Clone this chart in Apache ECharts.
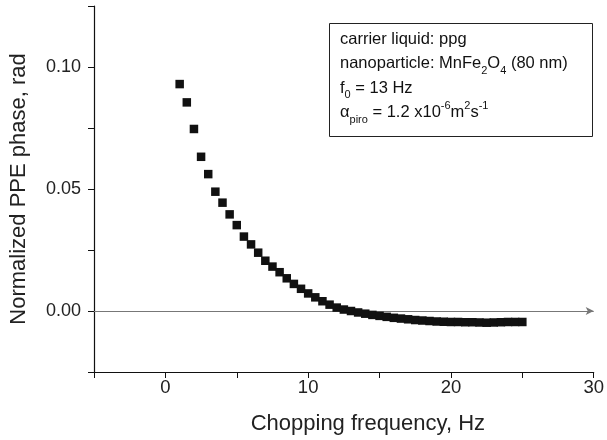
<!DOCTYPE html>
<html><head><meta charset="utf-8">
<script src="https://cdn.jsdelivr.net/npm/echarts@6/dist/echarts.min.js"></script>
<style>html,body{margin:0;padding:0;background:#fff}#c{width:607px;height:440px}</style>
</head><body><div id="c"></div>
<script>
const freq = [1,1.5,2,2.5,3,3.5,4,4.5,5,5.5,6,6.5,7,7.5,8,8.5,9,9.5,10,10.5,11,11.5,12,12.5,13,13.5,14,14.5,15,15.5,16,16.5,17,17.5,18,18.5,19,19.5,20,20.5,21,21.5,22,22.5,23,23.5,24,24.5,25];
const phase = [0.0930,0.0855,0.0746,0.0632,0.0561,0.0489,0.0444,0.0396,0.0352,0.0305,0.0273,0.0239,0.0206,0.0182,0.0159,0.0134,0.0111,0.0091,0.0072,0.0056,0.0040,0.0026,0.0014,0.0006,0.0000,-0.0006,-0.0011,-0.0016,-0.0020,-0.0024,-0.0028,-0.0031,-0.0034,-0.0037,-0.0039,-0.0041,-0.0043,-0.0044,-0.0045,-0.0045,-0.0046,-0.0046,-0.0047,-0.0048,-0.0047,-0.0046,-0.0045,-0.0045,-0.0045];
const xTickLabels = [0,10,20,30];
const yTickLabels = ['0.00','0.05','0.10'];
const xLabel = 'Chopping frequency, Hz';
const yLabel = 'Normalized PPE phase, rad';

const FONT = 'Liberation Sans, Arial, sans-serif';
const chart = echarts.init(document.getElementById('c'), null, {renderer:'canvas'});
const pts = freq.map((f,i)=>[f, phase[i]]);
chart.setOption({
  animation:false,
  grid:{left:94,right:13,top:6,bottom:68},
  xAxis:{
    type:'value', min:-5, max:30, interval:5,
    name:xLabel, nameLocation:'middle', nameGap:41,
    nameTextStyle:{fontFamily:FONT,fontSize:22,color:'#222',padding:[0,0,0,48]},
    axisLine:{onZero:false,lineStyle:{color:'#111',width:1.2}},
    axisTick:{inside:false,length:6,lineStyle:{color:'#111'}},
    axisLabel:{fontFamily:FONT,fontSize:18.5,color:'#222',margin:6,
      formatter:v=> xTickLabels.indexOf(Math.round(v))>=0 && Math.abs(v-Math.round(v))<1e-9 ? String(Math.round(v)) : ''},
    splitLine:{show:false}
  },
  yAxis:{
    type:'value', min:-0.025, max:0.125, interval:0.025,
    name:yLabel, nameLocation:'middle', nameGap:64,
    nameTextStyle:{fontFamily:FONT,fontSize:22,color:'#222'},
    axisLine:{show:true,onZero:false,lineStyle:{color:'#111',width:1.2}},
    axisTick:{show:true,inside:false,length:6,lineStyle:{color:'#111'}},
    axisLabel:{fontFamily:FONT,fontSize:18,color:'#222',margin:13,
      formatter:v=>{const s=v.toFixed(2); return (yTickLabels.indexOf(s)>=0 && Math.abs(v*20-Math.round(v*20))<1e-6)?s:'';}},
    splitLine:{show:false}
  },
  series:[{
    type:'scatter', data:pts, symbol:'rect', symbolSize:8.5, clip:false,
    itemStyle:{color:'#111',opacity:1},
    z:3,
    markLine:{
      silent:true, symbol:['none','arrow'], symbolSize:[6,8],
      label:{show:false}, z:2,
      lineStyle:{type:'solid',color:'#777',width:1},
      data:[{yAxis:0}]
    }
  }],
  graphic:[
    {type:'rect',shape:{x:329.5,y:23.5,width:263,height:113},style:{fill:'#fff',stroke:'#222',lineWidth:1}},
    {type:'text',left:340,top:27,style:{
      fontFamily:FONT,fontSize:16.5,fill:'#111',lineHeight:24.5,
      text:'carrier liquid: ppg\nnanoparticle: MnFe{sub|2}O{sub|4} (80 nm)\nf{sub|0} = 13 Hz\nα{sub|piro} = 1.2 x10{sup|-6}m{sup|2}s{sup|-1}',
      rich:{
        sub:{fontFamily:FONT,fontSize:11,fill:'#111',verticalAlign:'bottom',lineHeight:11},
        sup:{fontFamily:FONT,fontSize:11,fill:'#111',verticalAlign:'top',lineHeight:11}
      }
    }}
  ]
});
</script></body></html>
